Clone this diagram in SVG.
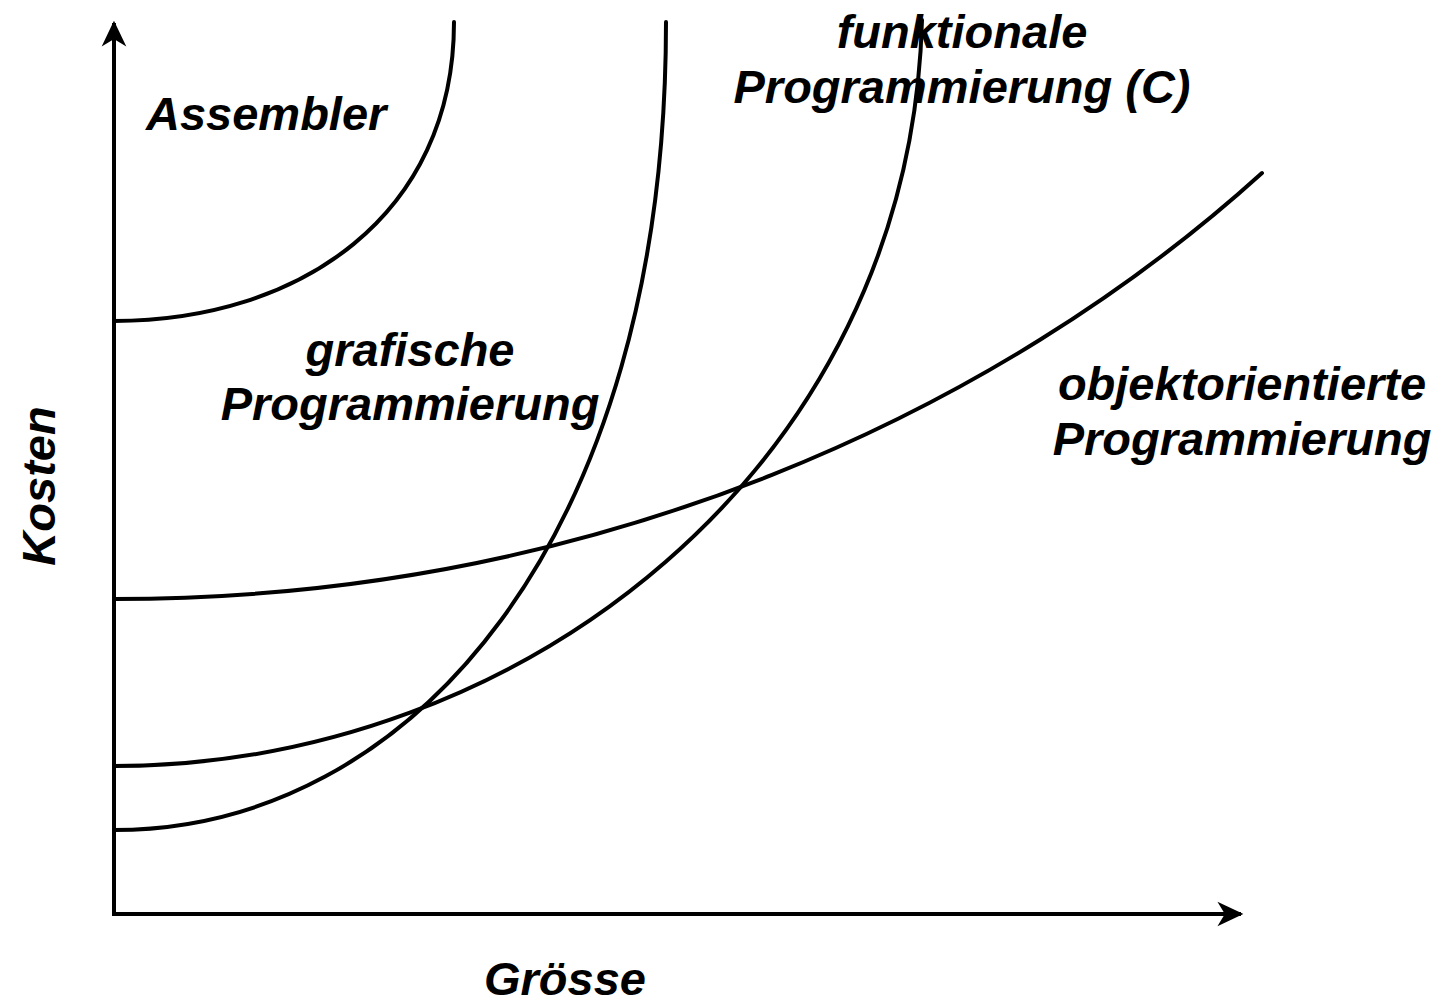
<svg xmlns="http://www.w3.org/2000/svg" width="1441" height="1005" viewBox="0 0 1441 1005">
  <style>
    .axis { fill: none; stroke: #000; stroke-width: 4; stroke-linecap: butt; }
    .curve { fill: none; stroke: #000; stroke-width: 4; stroke-linecap: round; }
    .lbl { font-family: "Liberation Sans", Arial, sans-serif; font-weight: bold; font-style: italic; font-size: 47px; fill: #000; }
  </style>
  <defs>
    <marker id="arrow" markerUnits="userSpaceOnUse" viewBox="-23 -12 25 24" refX="0" refY="0" markerWidth="25" markerHeight="24" orient="auto" overflow="visible">
      <path d="M0,0 L-21,-10 L-15,0 L-21,10 Z" fill="#000" stroke="#000" stroke-width="2" stroke-linejoin="miter"/>
    </marker>
  </defs>

  <rect width="1441" height="1005" fill="#fff"/>

  <!-- axes -->
  <g id="axes">
    <path class="axis" d="M114,916 L114,23" marker-end="url(#arrow)"/>
    <path class="axis" d="M112,914 L1241,914" marker-end="url(#arrow)"/>
  </g>

  <!-- cost curves -->
  <g id="curves">
    <path id="curve-assembler" class="curve" d="M114,321 C300,321 454,215 454,22"/>
    <path id="curve-grafisch" class="curve" d="M114,830 C410,830 666,540 666,22"/>
    <path id="curve-funktional" class="curve" d="M114,766 C520,766 910,470 922,20"/>
    <path id="curve-oo" class="curve" d="M114,599 C600,599 1000,410 1262,173"/>
  </g>

  <!-- labels -->
  <g id="labels">
    <text class="lbl" x="146" y="130">Assembler</text>
    <text class="lbl" x="962" y="48" text-anchor="middle">funktionale</text>
    <text class="lbl" x="962" y="103" text-anchor="middle">Programmierung (C)</text>
    <text class="lbl" x="410" y="366" text-anchor="middle">grafische</text>
    <text class="lbl" x="410" y="420" text-anchor="middle">Programmierung</text>
    <text class="lbl" x="1242" y="400" text-anchor="middle">objektorientierte</text>
    <text class="lbl" x="1242" y="455" text-anchor="middle">Programmierung</text>
    <text class="lbl" x="565" y="995" text-anchor="middle">Grösse</text>
    <text class="lbl" transform="translate(55,486) rotate(-90)" text-anchor="middle">Kosten</text>
  </g>
</svg>
